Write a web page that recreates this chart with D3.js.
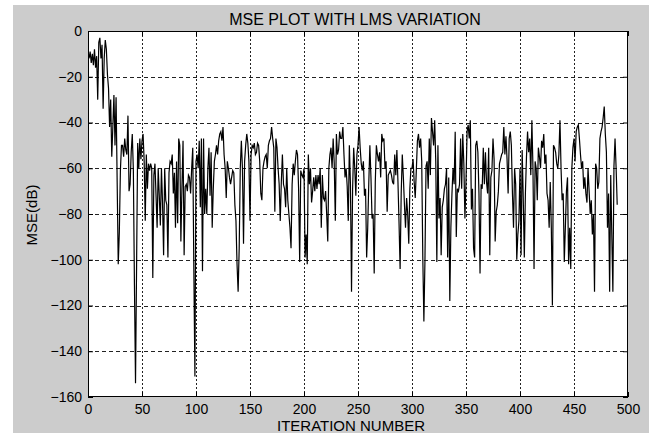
<!DOCTYPE html>
<html>
<head>
<meta charset="utf-8">
<script src="https://cdn.jsdelivr.net/npm/d3@7"></script>
<style>
  body { margin: 0; background: #fff; }
  text { font-family: "Liberation Sans", Arial, sans-serif; fill: #000; }
</style>
</head>
<body>
<div class="svg-container"></div>
<script>
// MSE (dB) per iteration (iteration 1..490)
const mseDb = [
  -12,-9,-14,-10,-15,-8,-16,-11,-30,-5,
  -3,-12,-6,-34,-12,-4,-8,-19,-25,-42,
  -30,-55,-42,-28,-50,-29,-66,-102,-88,-61,
  -50,-50,-55,-47,-52,-54,-37,-70,-67,-53,
  -45,-61,-111,-154,-102,-49,-60,-47,-56,-48,
  -45,-57,-83,-54,-69,-58,-61,-58,-60,-108,
  -63,-58,-72,-86,-60,-72,-85,-60,-75,-98,
  -60,-74,-76,-99,-62,-57,-58,-54,-71,-62,
  -86,-57,-84,-47,-50,-92,-68,-48,-98,-68,
  -67,-70,-63,-64,-71,-60,-51,-104,-151,-57,
  -54,-60,-48,-77,-47,-105,-47,-80,-69,-80,
  -60,-51,-72,-53,-86,-69,-57,-54,-50,-54,
  -48,-45,-44,-48,-42,-54,-60,-73,-57,-60,
  -64,-67,-64,-61,-62,-76,-83,-102,-114,-95,
  -60,-48,-60,-93,-57,-50,-45,-49,-57,-83,
  -54,-50,-51,-49,-54,-53,-49,-50,-57,-71,
  -74,-60,-57,-55,-54,-60,-50,-48,-47,-42,
  -47,-51,-79,-47,-51,-60,-67,-83,-66,-54,
  -67,-69,-77,-60,-74,-80,-86,-95,-67,-58,
  -63,-57,-52,-54,-69,-101,-61,-63,-64,-60,
  -99,-89,-102,-54,-67,-60,-75,-70,-64,-70,
  -63,-69,-63,-67,-60,-86,-63,-73,-74,-70,
  -80,-92,-60,-54,-51,-60,-47,-58,-83,-45,
  -54,-52,-44,-47,-47,-42,-54,-64,-60,-68,
  -83,-50,-67,-114,-69,-51,-60,-72,-54,-50,
  -42,-51,-58,-61,-57,-72,-69,-99,-86,-66,
  -50,-64,-82,-80,-106,-66,-50,-54,-57,-53,
  -64,-45,-48,-47,-60,-57,-79,-63,-62,-61,
  -63,-66,-67,-54,-63,-52,-66,-84,-104,-71,
  -54,-64,-76,-86,-73,-80,-93,-69,-60,-60,
  -56,-66,-73,-61,-48,-45,-51,-47,-57,-99,
  -127,-100,-59,-57,-69,-47,-63,-38,-44,-50,
  -39,-57,-101,-50,-82,-73,-98,-77,-74,-69,
  -67,-60,-99,-64,-118,-86,-71,-60,-67,-44,
  -90,-69,-70,-67,-47,-69,-45,-58,-82,-66,
  -44,-41,-47,-39,-78,-69,-95,-99,-50,-48,
  -53,-71,-106,-67,-69,-51,-67,-53,-66,-71,
  -51,-98,-64,-61,-47,-56,-92,-79,-76,-70,
  -58,-56,-54,-53,-42,-54,-46,-56,-71,-47,
  -44,-50,-71,-86,-60,-67,-100,-89,-83,-60,
  -98,-52,-73,-99,-71,-55,-44,-53,-47,-63,
  -39,-60,-104,-57,-60,-74,-51,-55,-60,-48,
  -51,-45,-58,-54,-71,-74,-86,-66,-86,-120,
  -50,-51,-53,-58,-60,-54,-39,-60,-74,-71,
  -101,-86,-70,-64,-102,-86,-104,-60,-51,-47,
  -57,-44,-42,-41,-47,-54,-60,-57,-69,-64,
  -71,-75,-60,-70,-80,-74,-89,-80,-114,-58,
  -60,-69,-66,-47,-44,-42,-38,-33,-45,-53,
  -86,-71,-114,-63,-89,-114,-59,-47,-60,-76
];

const xTicks = [0, 50, 100, 150, 200, 250, 300, 350, 400, 450, 500];
const yTicks = [0, -20, -40, -60, -80, -100, -120, -140, -160];

const titleText = 'MSE PLOT WITH LMS VARIATION';
const xLabelText = 'ITERATION NUMBER';
const yLabelText = 'MSE(dB)';

const totalW = 649, totalH = 433;
const margin = {top: 31, right: 21, bottom: 36, left: 88};
const width = totalW - margin.left - margin.right;
const height = totalH - margin.top - margin.bottom;

const svg = d3.select('.svg-container')
  .append('svg')
  .attr('width', totalW)
  .attr('height', totalH);

// figure background (grey, with a thin white strip at left/top)
svg.append('rect')
  .attr('x', 13).attr('y', 5)
  .attr('width', totalW - 13).attr('height', totalH - 5)
  .attr('fill', '#cccccc');

const g = svg.append('g')
  .attr('transform', `translate(${margin.left}, ${margin.top})`);

const xScale = d3.scaleLinear().domain([0, 500]).range([0, width]);
const yScale = d3.scaleLinear().domain([-160, 0]).range([height, 0]);

// plot area
g.append('rect')
  .attr('width', width).attr('height', height)
  .attr('fill', '#fff');

// grid
g.append('g').selectAll('line')
  .data(yTicks.slice(1, -1))
  .join('line')
  .attr('x1', 0).attr('x2', width)
  .attr('y1', d => Math.round(yScale(d)) + 0.5)
  .attr('y2', d => Math.round(yScale(d)) + 0.5)
  .attr('stroke', '#222')
  .attr('stroke-dasharray', '4,3');

g.append('g').selectAll('line')
  .data(xTicks.slice(1, -1))
  .join('line')
  .attr('y1', 0).attr('y2', height)
  .attr('x1', d => Math.round(xScale(d)) + 0.5)
  .attr('x2', d => Math.round(xScale(d)) + 0.5)
  .attr('stroke', '#222')
  .attr('stroke-dasharray', '2,2');

// the MSE curve
const line = d3.line()
  .x((d, i) => xScale(i + 1))
  .y(d => yScale(d));

g.append('path')
  .datum(mseDb)
  .attr('fill', 'none')
  .attr('stroke', '#000')
  .attr('stroke-width', 1.2)
  .attr('stroke-linejoin', 'miter')
  .attr('d', line);

// axes, ticks pointing inward
const xAxis = d3.axisBottom(xScale).tickValues(xTicks)
  .tickSizeInner(-5).tickSizeOuter(0).tickPadding(7);
const yAxis = d3.axisLeft(yScale).tickValues(yTicks)
  .tickSizeInner(-5).tickSizeOuter(0).tickPadding(6);

const xAxisDraw = g.append('g')
  .attr('transform', `translate(0, ${height})`)
  .call(xAxis);
const yAxisDraw = g.append('g').call(yAxis);

g.append('g').call(d3.axisTop(xScale).tickValues(xTicks)
  .tickSizeInner(-5).tickSizeOuter(0).tickFormat(''));
g.append('g').attr('transform', `translate(${width}, 0)`)
  .call(d3.axisRight(yScale).tickValues(yTicks)
  .tickSizeInner(-5).tickSizeOuter(0).tickFormat(''));

g.selectAll('.domain').remove();
g.selectAll('.tick line').attr('stroke', '#000');
g.selectAll('.tick text')
  .attr('font-size', 14)
  .attr('font-family', '"Liberation Sans", Arial, sans-serif');

// box
g.append('rect')
  .attr('x', 0.5).attr('y', 0.5)
  .attr('width', width - 1).attr('height', height - 1)
  .attr('fill', 'none')
  .attr('stroke', '#000');

// labels
svg.append('text')
  .attr('x', 355).attr('y', 25)
  .attr('text-anchor', 'middle')
  .attr('font-size', 16)
  .text(titleText);

svg.append('text')
  .attr('x', 351).attr('y', 431)
  .attr('text-anchor', 'middle')
  .attr('font-size', 15)
  .text(xLabelText);

svg.append('text')
  .attr('transform', 'translate(37, 215) rotate(-90)')
  .attr('text-anchor', 'middle')
  .attr('font-size', 15)
  .text(yLabelText);
</script>
</body>
</html>
